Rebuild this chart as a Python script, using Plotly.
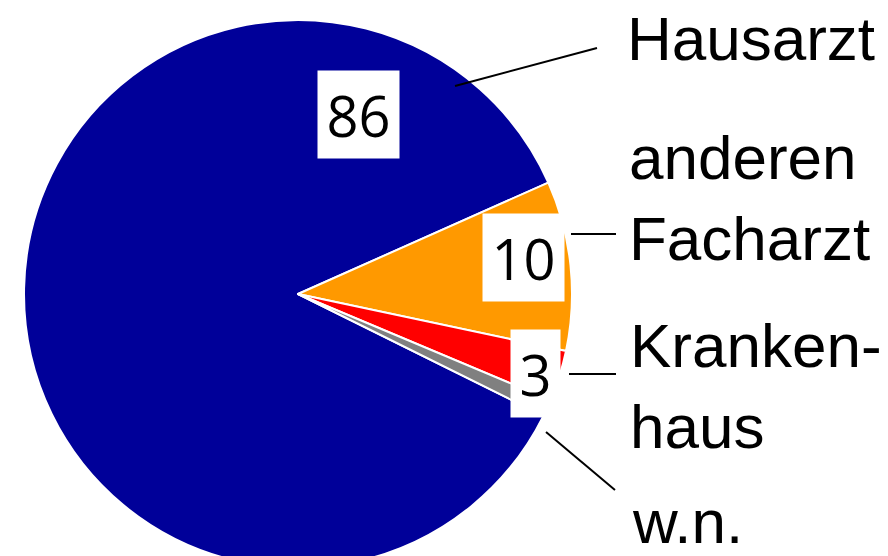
import plotly.graph_objects as go

# data
labels = ["Hausarzt", "anderen<br>Facharzt", "Kranken-<br>haus", "w.n."]
values = [86, 10, 3, 1]
colors = ["#000099", "#FF9900", "#FF0000", "#808080"]
value_labels = ["86", "10", "3"]

W, H = 888, 570

def px(x):
    return x / W

def py(y):
    return 1 - y / H

fig = go.Figure()
fig.add_trace(go.Pie(
    labels=labels, values=values, sort=False, direction="clockwise",
    rotation=116.4,
    marker=dict(colors=colors, line=dict(color="white", width=2)),
    textinfo="none", hoverinfo="label+value", showlegend=False,
    domain=dict(x=[px(24), px(572)], y=[py(568), py(20)]),
))

# value boxes
box_pos = [(358, 115, 71), (523, 257, 71), (535, 373, 39)]
annots = []
for txt, (bx, by, bw) in zip(value_labels, box_pos):
    annots.append(dict(x=px(bx), y=py(by), xref="paper", yref="paper",
                       text=txt, showarrow=False, xanchor="center", yanchor="middle",
                       bgcolor="white", borderpad=5, width=bw, height=77,
                       font=dict(family="Open Sans", size=56, color="black")))

# outside labels
lab_pos = [(625, 39), (627, 198), (628, 386), (630, 521)]
for txt, (lx, ly) in zip(labels, lab_pos):
    annots.append(dict(x=px(lx), y=py(ly), xref="paper", yref="paper",
                       text=txt, showarrow=False, xanchor="left", yanchor="middle",
                       align="left",
                       font=dict(family="Liberation Sans, Arial", size=62, color="black")))

# leader lines
leaders = [((455, 86), (597, 48)), ((571, 234), (616, 234)),
           ((569, 374), (616, 374)), ((546, 432), (615, 490))]
shapes = []
for (x0, y0), (x1, y1) in leaders:
    shapes.append(dict(type="line", xref="paper", yref="paper",
                       x0=px(x0), y0=py(y0), x1=px(x1), y1=py(y1),
                       line=dict(color="black", width=2)))

fig.update_layout(width=W, height=H, margin=dict(l=0, r=0, t=0, b=0),
                  paper_bgcolor="white", plot_bgcolor="white",
                  annotations=annots, shapes=shapes)

fig.write_html("out.html", config={"displayModeBar": False},
               post_script="document.body.style.margin='0';document.body.style.overflow='hidden';document.documentElement.style.overflow='hidden';")
